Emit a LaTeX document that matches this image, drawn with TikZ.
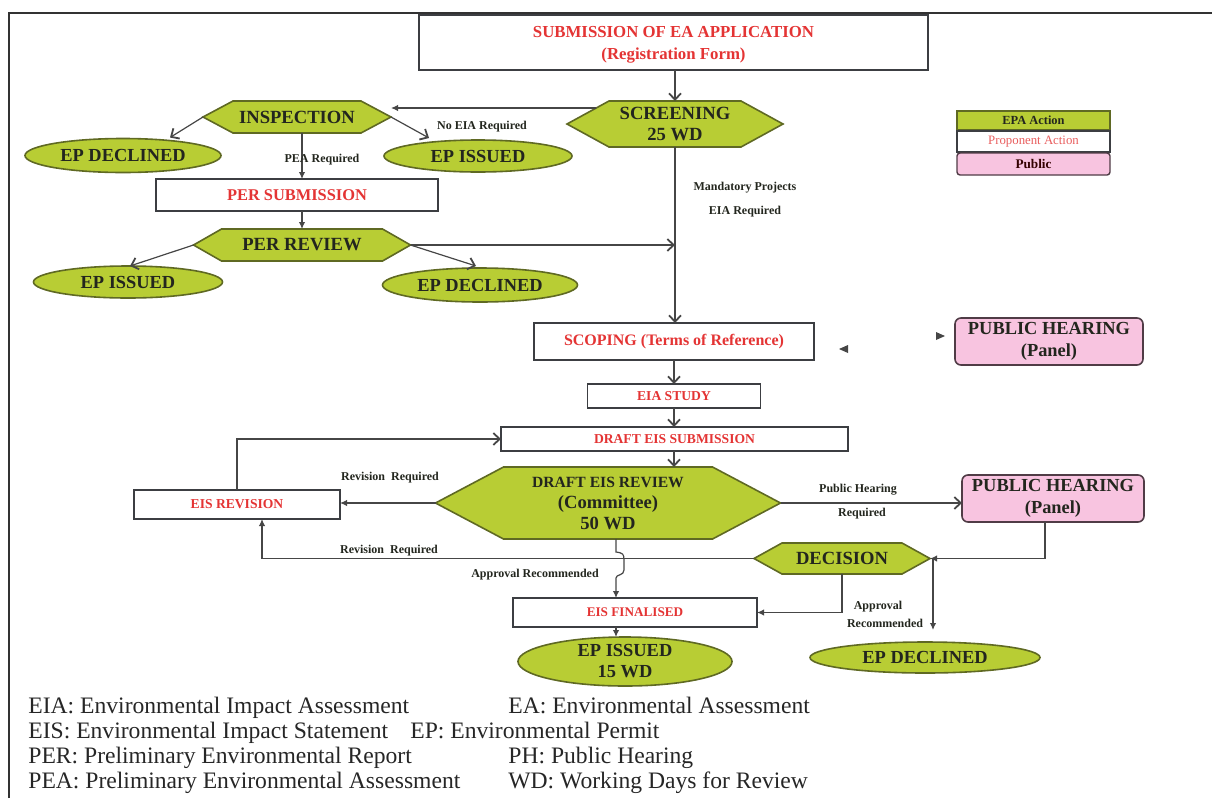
\documentclass[tikz,border=0pt]{standalone}
\usepackage{fontspec}
\setmainfont{Liberation Serif}
\usetikzlibrary{arrows.meta,calc,shapes.geometric}
\definecolor{epagreen}{RGB}{184,205,52}
\definecolor{greenline}{RGB}{95,105,35}
\definecolor{pubpink}{RGB}{248,196,224}
\definecolor{publine}{RGB}{80,60,70}
\definecolor{redtxt}{RGB}{228,52,52}
\definecolor{boxline}{RGB}{60,62,66}
\definecolor{lineclr}{RGB}{70,70,70}
\definecolor{darktxt}{RGB}{35,38,30}
\definecolor{frameclr}{RGB}{50,50,50}
\tikzset{
  sz/.style 2 args={minimum width={#1*0.5pt}, minimum height={#2*0.5pt}},
  box/.style={draw=boxline, line width=0.7pt, fill=white, text=redtxt, inner sep=0pt, outer sep=0pt, align=center},
  ell/.style={ellipse, draw=greenline, fill=epagreen, line width=0.8pt, text=darktxt, inner sep=0pt, outer sep=0pt, align=center, font=\bfseries\fontsize{9.2}{10.5}\selectfont},
  hexb/.style={draw=greenline, fill=epagreen, line width=0.8pt, line join=miter},
  hext/.style={inner sep=0pt, outer sep=0pt, text=darktxt, align=center, font=\bfseries\fontsize{9.3}{10.5}\selectfont},
  pub/.style={rounded corners=3pt, draw=publine, fill=pubpink, line width=0.8pt, text=darktxt, inner sep=0pt, outer sep=0pt, align=center, font=\bfseries\fontsize{9.2}{11}\selectfont},
  conn/.style={draw=lineclr, line width=0.6pt},
  barb/.style={conn, -{Straight Barb[length=3.2pt,width=6pt,line width=0.9pt]}},
  tri/.style={conn, -{Latex[length=3.5pt,width=3.2pt]}},
  lbl/.style={font=\bfseries\fontsize{6}{7}\selectfont, text=darktxt, inner sep=0pt},
  leg/.style={font=\fontsize{11.8}{13}\selectfont, text=black!85, inner sep=0pt, anchor=base west},
}
\newcommand\hexnode[7]{%
  \draw[hexb] ({#2-#4/2},#3) -- ({#2-#4/2+#6},{#3-#5/2}) -- ({#2+#4/2-#6},{#3-#5/2}) -- ({#2+#4/2},#3) -- ({#2+#4/2-#6},{#3+#5/2}) -- ({#2-#4/2+#6},{#3+#5/2}) -- cycle;
  \node[hext, sz={#4}{#5}] (#1) at (#2,#3) {#7};
}
\begin{document}
\begin{tikzpicture}[x=0.5pt,y=-0.5pt]
\useasboundingbox (0,0) rectangle (1220,798);
% frame
\draw[frameclr, line width=1pt] (9,798) -- (9,13) -- (1212,13);

% boxes (proponent actions)
\node[box, sz={509}{55}, font=\bfseries\fontsize{8.4}{11}\selectfont] (sub) at (673.5,42.5) {\strut SUBMISSION OF EA APPLICATION\\(Registration Form)};
\node[box, sz={282}{32}, font=\bfseries\fontsize{8.2}{10}\selectfont] (persub) at (297,195) {PER SUBMISSION};
\node[box, sz={280}{37}, font=\bfseries\fontsize{8}{10}\selectfont] (scop) at (674,341.5) {SCOPING (Terms of Reference)};
\node[box, sz={173}{24}, font=\bfseries\fontsize{6.8}{8}\selectfont] (eia) at (674,396) {EIA STUDY};
\node[box, sz={347}{24}, font=\bfseries\fontsize{6.8}{8}\selectfont] (dsub) at (674.5,439) {DRAFT EIS SUBMISSION};
\node[box, sz={206}{29}, font=\bfseries\fontsize{6.8}{8}\selectfont] (erev) at (237,504.5) {EIS REVISION};
\node[box, sz={244}{29}, font=\bfseries\fontsize{6.6}{8}\selectfont] (efin) at (635,612.5) {EIS FINALISED};

% hexagons (EPA actions)
\hexnode{scr}{675}{124}{216}{46}{42}{SCREENING\\25 WD}
\hexnode{insp}{297}{117}{188}{32}{30}{INSPECTION}
\hexnode{perrev}{302}{245}{217}{32}{28}{PER REVIEW}
\hexnode{drev}{608}{503}{345}{72}{68}{\fontsize{7.8}{11}\selectfont DRAFT EIS REVIEW\\(Committee)\\50 WD}
\hexnode{dec}{842}{558.5}{176}{31}{28}{DECISION}

% ellipses
\node[ell, sz={196}{34}] (epd1) at (123,155.5) {EP DECLINED};
\node[ell, sz={188}{32}] (epi1) at (478,156) {EP ISSUED};
\node[ell, sz={189}{32}] (epi2) at (128,282) {EP ISSUED};
\node[ell, sz={195}{34}] (epd2) at (480,285) {EP DECLINED};
\node[ell, sz={214}{49}] (epi3) at (625,661.5) {EP ISSUED\\15 WD};
\node[ell, sz={230}{31}] (epd3) at (925,657.5) {EP DECLINED};

% public hearings
\node[pub, sz={188}{47}] (ph1) at (1049,341.5) {PUBLIC HEARING\\(Panel)};
\node[pub, sz={182}{47}] (ph2) at (1053,498.5) {PUBLIC HEARING\\(Panel)};

% key
\node[draw=greenline, fill=epagreen, line width=0.7pt, sz={153}{19}, inner sep=0pt, font=\bfseries\fontsize{6.2}{7}\selectfont, text=darktxt] (k1) at (1033.5,120.5) {EPA Action};
\node[draw=boxline, fill=white, line width=0.7pt, sz={153}{21}, inner sep=0pt, font=\fontsize{6.4}{7}\selectfont, text=redtxt!80] (k2) at (1033.5,141.5) {Proponent Action};
\node[draw=publine, fill=pubpink, rounded corners=1.5pt, line width=0.7pt, sz={153}{22}, inner sep=0pt, font=\bfseries\fontsize{6.6}{7}\selectfont, text=black!80!red] (k3) at (1033.5,164) {Public};

% connectors
\draw[barb] (sub.south -| scr.north) -- (scr.north);
\draw[tri] ($(scr.west)+(29,-16)$) -- ($(insp.east)+(0,-9)$);
\draw[barb] (insp.west) -- ($(epd1.north)+(47,-1)$);
\draw[barb] (insp.east) -- ($(epi1.north)+(-49,-2)$);
\node[lbl] (lNoEIA) at (482,127) {No EIA Required};
\draw[tri] ($(insp.south)+(5,0)$) -- ($(persub.north)+(5,0)$);
\node[lbl] (lPEA) at (322,160) {PEA Required};
\draw[tri] ($(persub.south)+(5,0)$) -- (perrev.north);
\draw[barb] (perrev.west) -- ($(epi2.north)+(2,0)$);
\draw[barb] (perrev.east) -- ($(epd2.north)+(-4,-2)$);
\draw[barb] (perrev.east) -- (scr.south |- perrev.east);
\draw[barb] (scr.south) -- (scr.south |- scop.north);
\node[lbl] (lMand) at (745,188) {Mandatory Projects};
\node[lbl] (lEIAreq) at (745,212) {EIA Required};
\fill[lineclr] (839,349) -- (848,345) -- (848,353) -- cycle;
\fill[lineclr] (945,336) -- (936,332) -- (936,340) -- cycle;
\draw[barb] (scop.south) -- (eia.north);
\draw[barb] (eia.south) -- (eia.south |- dsub.north);
\draw[barb] (eia.south |- dsub.south) -- (eia.south |- drev.north);
\draw[tri] (drev.west) -- (erev.east |- drev.west);
\node[lbl] (lRev1) at (390,478) {Revision\ \ Required};
\draw[barb] (erev.north) |- (dsub.west);
\draw[barb] (drev.east) -- (drev.east -| ph2.west);
\node[lbl] (lPH) at (858,490) {Public Hearing};
\node[lbl] (lPHreq) at (862,514) {Required};
\draw[tri] ($(ph2.south)+(-8,0)$) |- (dec.east);
\draw[tri] (dec.west) -| ($(erev.south)+(25,0)$);
\node[lbl] (lRev2) at (389,551) {Revision\ \ Required};
\draw[tri] ($(drev.south)+(8,0)$) -- ++(0,13) .. controls ++(7,1) and ++(0,-6) .. ++(8,8) -- ++(0,10) .. controls ++(0,6) and ++(0,-4) .. ++(-8,8) -- ($(efin.north)+(-19,0)$);
\node[lbl] (lAppr1) at (535,575) {Approval Recommended};
\draw[tri] (dec.south) |- (efin.east);
\node[lbl] (lAppr2) at (878,607) {Approval};
\node[lbl] (lAppr3) at (885,623) {Recommended};
\coordinate (declTip) at (933,630);
\draw[tri] ($(dec.east)+(3,0)$) -- (declTip);
\draw[tri] ($(efin.south)+(-19,0)$) -- ($(epi3.north)+(-9,0)$);

% abbreviations
\node[leg] (a1) at (28,713) {EIA: Environmental Impact Assessment};
\node[leg] (a2) at (508,713) {EA: Environmental Assessment};
\node[leg] (a3) at (28,738) {EIS: Environmental Impact Statement};
\node[leg] (a4) at (410,738) {EP: Environmental Permit};
\node[leg] (a5) at (28,763) {PER: Preliminary Environmental Report};
\node[leg] (a6) at (508,763) {PH: Public Hearing};
\node[leg] (a7) at (28,788) {PEA: Preliminary Environmental Assessment};
\node[leg] (a8) at (508,788) {WD: Working Days for Review};
\end{tikzpicture}
\end{document}
